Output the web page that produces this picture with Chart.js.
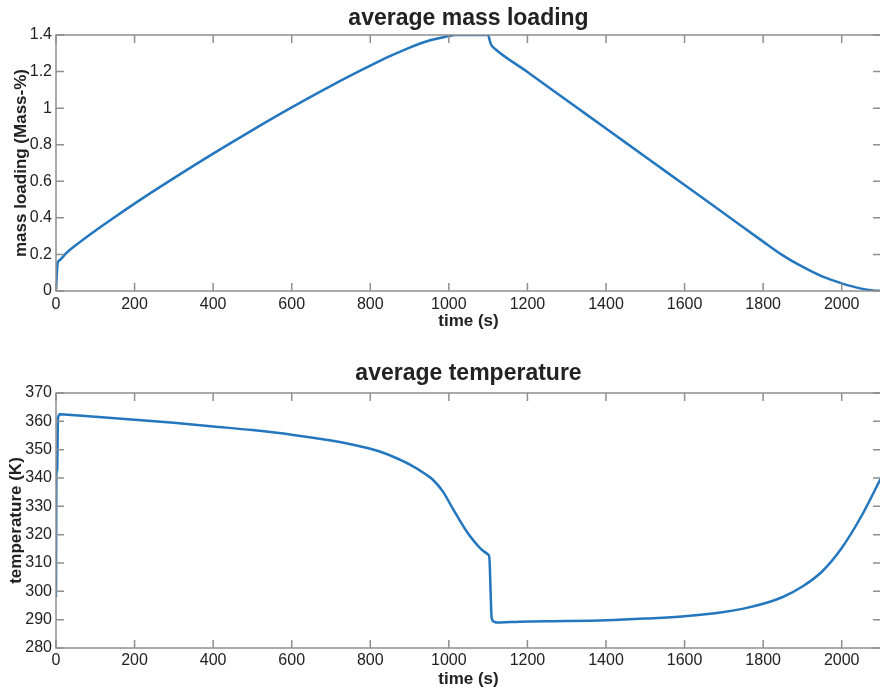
<!DOCTYPE html>
<html>
<head>
<meta charset="utf-8">
<title>average mass loading / average temperature</title>
<script src="https://cdn.jsdelivr.net/npm/chart.js@4.4.1/dist/chart.umd.min.js"></script>
<style>
  html, body { margin: 0; padding: 0; background: #fff; overflow: hidden; }
  .panel { position: absolute; left: 0; width: 884px; height: 345px; }
</style>
</head>
<body>
<div class="panel" style="top:0"><canvas id="loadChart" width="884" height="345"></canvas></div>
<div class="panel" style="top:345px"><canvas id="tempChart" width="884" height="345"></canvas></div>
<script>
// tick positions
const timeTicks = [0, 200, 400, 600, 800, 1000, 1200, 1400, 1600, 1800, 2000];
const loadTicks = [0, 0.2, 0.4, 0.6, 0.8, 1, 1.2, 1.4];
const tempTicks = [280, 290, 300, 310, 320, 330, 340, 350, 360, 370];

// average mass loading (Mass-%) over time (s)
const loadTime = [0, 2, 4, 10, 25, 50, 100, 150, 200, 300, 400, 500, 600, 700, 800, 850, 900, 950,
  1000, 1015, 1060, 1100, 1104, 1108, 1117, 1200, 1300, 1400, 1500, 1600, 1700, 1800, 1850,
  1900, 1950, 2000, 2050, 2080, 2100];
const loadValue = [0, 0.09, 0.15, 0.17, 0.205, 0.25, 0.33, 0.405, 0.478, 0.617, 0.751, 0.88,
  1.004, 1.122, 1.232, 1.284, 1.331, 1.37, 1.394, 1.4, 1.4, 1.4, 1.37, 1.345, 1.325, 1.198, 1.043,
  0.889, 0.734, 0.58, 0.425, 0.27, 0.195, 0.133, 0.08, 0.042, 0.013, 0.003, 0];

// average temperature (K) over time (s)
const tempTime = [0, 1, 3, 5, 10, 30, 100, 200, 300, 400, 500, 600, 700, 750, 800, 833, 870, 900,
  940, 960, 985, 1010, 1045, 1080, 1100, 1103, 1109, 1115, 1122, 1180, 1300, 1400, 1500, 1600,
  1700, 1750, 1800, 1850, 1900, 1950, 2000, 2050, 2100];
const tempValue = [298, 341, 343, 361, 362.5, 362.3, 361.6, 360.6, 359.5, 358.2, 356.9, 355.3,
  353.2, 351.9, 350.3, 348.9, 346.8, 344.8, 341.4, 339.3, 335.2, 329.2, 321.2, 315.2, 313, 312,
  290.6, 289.3, 289, 289.3, 289.5, 289.8, 290.4, 291.2, 292.7, 293.9, 295.6, 298, 301.7, 307,
  315.3, 326.5, 340];

const FONT = "'Liberation Sans', Arial, Helvetica, sans-serif";
const TEXT = '#222';
const FRAME = '#8f8f8f';
const LINE = 'rgb(36, 119, 190)';

// box around the plot with inward tick marks on all four sides
const framePlugin = {
  id: 'frame',
  afterDatasetsDraw(chart) {
    const { ctx, chartArea: a, scales: { x, y } } = chart;
    const len = 8;
    ctx.save();
    ctx.strokeStyle = FRAME;
    ctx.lineWidth = 1.5;
    ctx.beginPath();
    x.ticks.forEach(t => {
      const px = x.getPixelForValue(t.value);
      ctx.moveTo(px, a.bottom); ctx.lineTo(px, a.bottom - len);
      ctx.moveTo(px, a.top); ctx.lineTo(px, a.top + len);
    });
    y.ticks.forEach(t => {
      const py = y.getPixelForValue(t.value);
      ctx.moveTo(a.left, py); ctx.lineTo(a.left + len, py);
      ctx.moveTo(a.right, py); ctx.lineTo(a.right - len, py);
    });
    ctx.stroke();
    ctx.strokeRect(a.left, a.top, a.right - a.left, a.bottom - a.top);
    ctx.restore();
  }
};

function makeChart(id, xs, ys, cfg) {
  const points = xs.map((t, i) => ({ x: t, y: ys[i] }));
  return new Chart(document.getElementById(id), {
    type: 'line',
    data: {
      datasets: [{
        data: points,
        borderColor: LINE,
        borderWidth: 2.5,
        pointRadius: 0,
        fill: false,
        cubicInterpolationMode: 'monotone'
      }]
    },
    options: {
      responsive: false,
      animation: false,
      events: [],
      layout: { padding: { left: 0, right: 3, top: 0, bottom: 0 } },
      plugins: {
        legend: { display: false },
        tooltip: { enabled: false }
      },
      scales: {
        // empty top axis, only used to centre the heading over the plot
        xTitle: {
          type: 'linear',
          position: 'top',
          min: 0,
          max: 2100,
          afterFit: s => { s.height = cfg.headHeight; },
          grid: { display: false, drawTicks: false },
          border: { display: false },
          ticks: { display: false },
          title: {
            display: true,
            text: cfg.title,
            color: TEXT,
            font: { family: FONT, size: 23, weight: 'bold', lineHeight: 1.2 },
            padding: { top: cfg.headPad, bottom: 0 }
          }
        },
        x: {
          type: 'linear',
          min: 0,
          max: 2100,
          afterBuildTicks: s => { s.ticks = timeTicks.map(v => ({ value: v })); },
          afterFit: s => { s.height = cfg.xHeight; },
          grid: { display: false, drawTicks: false },
          border: { display: false },
          ticks: {
            color: TEXT,
            padding: cfg.xTickPad,
            maxRotation: 0,
            font: { family: FONT, size: 16 },
            callback: v => String(v)
          },
          title: {
            display: true,
            text: 'time (s)',
            color: TEXT,
            font: { family: FONT, size: 17, weight: 'bold', lineHeight: 1.2 },
            padding: { top: 0, bottom: cfg.xTitlePad }
          }
        },
        y: {
          type: 'linear',
          min: cfg.yTicks[0],
          max: cfg.yTicks[cfg.yTicks.length - 1],
          afterBuildTicks: s => { s.ticks = cfg.yTicks.map(v => ({ value: v })); },
          afterFit: s => { s.width = 56; },
          grid: { display: false, drawTicks: false },
          border: { display: false },
          ticks: {
            color: TEXT,
            padding: 4,
            font: { family: FONT, size: 16 },
            callback: v => String(v)
          },
          title: {
            display: true,
            text: cfg.yTitle,
            color: TEXT,
            font: { family: FONT, size: 17, weight: 'bold', lineHeight: 1.2 },
            padding: { top: cfg.yTitlePad, bottom: 0 }
          }
        }
      }
    },
    plugins: [framePlugin]
  });
}

makeChart('loadChart', loadTime, loadValue, {
  title: 'average mass loading',
  headHeight: 35,
  headPad: 5,
  yTicks: loadTicks,
  yTitle: 'mass loading (Mass-%)',
  yTitlePad: 11.3,
  xHeight: 54,
  xTickPad: 3.5,
  xTitlePad: 13.8
});

makeChart('tempChart', tempTime, tempValue, {
  title: 'average temperature',
  headHeight: 48,
  headPad: 15,
  yTicks: tempTicks,
  yTitle: 'temperature (K)',
  yTitlePad: 6,
  xHeight: 42,
  xTickPad: 2.8,
  xTitlePad: 0
});
</script>
</body>
</html>
